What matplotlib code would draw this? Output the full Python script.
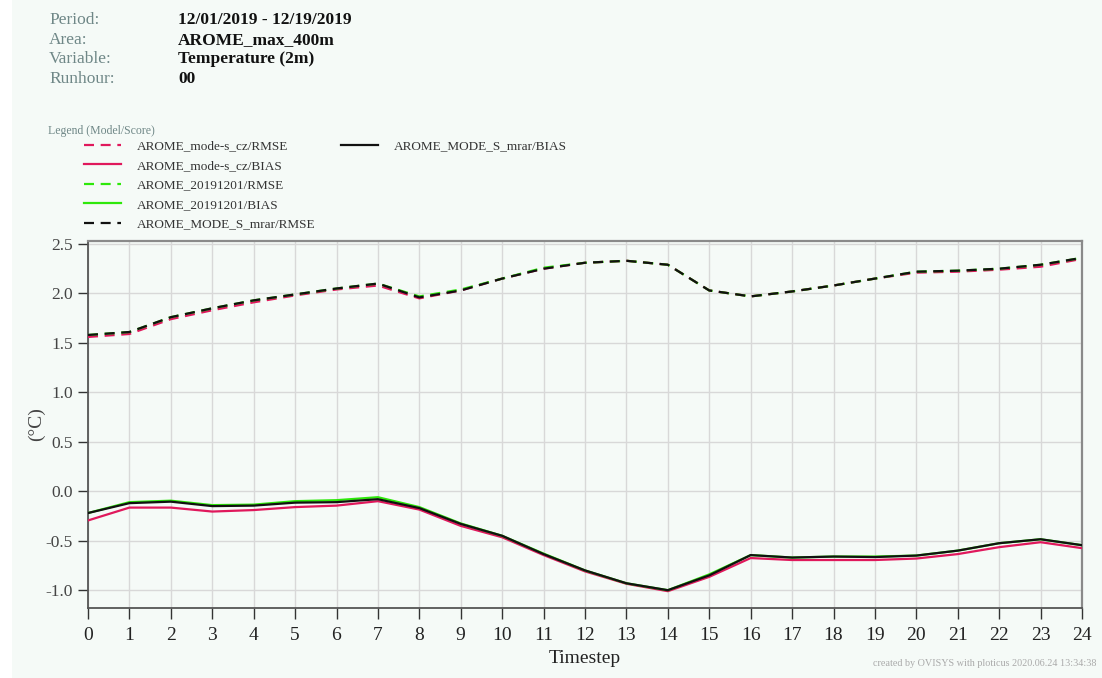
#!/usr/bin/env python3
"""
Verification scores plot: Temperature (2m), RMSE and BIAS by timestep
"""
import matplotlib
matplotlib.use("Agg")
import matplotlib.pyplot as plt
from matplotlib.patches import Rectangle

# header info
header_keys = ["Period:", "Area:", "Variable:", "Runhour:"]
header_vals = ["12/01/2019 - 12/19/2019", "AROME_max_400m", "Temperature (2m)", "00"]

timesteps = list(range(25))
xtick_labels = [str(t) for t in timesteps]
yticks = [-1.0, -0.5, 0.0, 0.5, 1.0, 1.5, 2.0, 2.5]

# RMSE series
modes_cz_rmse = [1.56, 1.59, 1.74, 1.83, 1.91, 1.98, 2.04, 2.08, 1.95, 2.03, 2.15, 2.25, 2.31,
                 2.33, 2.29, 2.03, 1.97, 2.02, 2.08, 2.15, 2.21, 2.22, 2.24, 2.27, 2.35]
arome_1201_rmse = [1.58, 1.61, 1.76, 1.85, 1.93, 1.99, 2.05, 2.10, 1.97, 2.04, 2.15, 2.26, 2.31,
                   2.33, 2.29, 2.03, 1.97, 2.02, 2.08, 2.15, 2.22, 2.23, 2.25, 2.29, 2.36]
mrar_rmse = [1.58, 1.61, 1.76, 1.85, 1.93, 1.99, 2.05, 2.10, 1.96, 2.03, 2.15, 2.25, 2.31,
             2.33, 2.29, 2.03, 1.97, 2.02, 2.08, 2.15, 2.22, 2.23, 2.25, 2.29, 2.36]

# BIAS series
modes_cz_bias = [-0.295, -0.165, -0.165, -0.205, -0.19, -0.16, -0.145, -0.10, -0.185, -0.35,
                 -0.465, -0.645, -0.81, -0.935, -1.01, -0.865, -0.675, -0.695, -0.695, -0.695,
                 -0.68, -0.635, -0.565, -0.515, -0.575]
arome_1201_bias = [-0.22, -0.11, -0.095, -0.14, -0.135, -0.10, -0.09, -0.06, -0.16, -0.325,
                   -0.45, -0.63, -0.80, -0.93, -1.00, -0.84, -0.645, -0.67, -0.66, -0.66,
                   -0.65, -0.60, -0.525, -0.485, -0.545]
mrar_bias = [-0.22, -0.12, -0.105, -0.15, -0.145, -0.115, -0.11, -0.08, -0.17, -0.33,
             -0.45, -0.635, -0.80, -0.93, -1.00, -0.85, -0.645, -0.67, -0.66, -0.665,
             -0.65, -0.60, -0.525, -0.485, -0.545]

RED = "#e0185c"
GREEN = "#2ee80a"
BLACK = "#111111"
BG = "#f5faf7"

plt.rcParams['font.family'] = ['Liberation Serif', 'DejaVu Serif']

fig = plt.figure(figsize=(11.02, 6.78), dpi=100, facecolor=BG)
# white strip at left edge
fig.patches.append(Rectangle((0, 0), 12 / 1102, 1, transform=fig.transFigure,
                             facecolor="white", edgecolor="none", zorder=0))

ax = fig.add_axes([88 / 1102, 70 / 678, 994 / 1102, 367 / 678])
ax.set_facecolor(BG)

series = [
    (modes_cz_rmse, RED, "--", "AROME_mode-s_cz/RMSE"),
    (modes_cz_bias, RED, "-", "AROME_mode-s_cz/BIAS"),
    (arome_1201_rmse, GREEN, "--", "AROME_20191201/RMSE"),
    (arome_1201_bias, GREEN, "-", "AROME_20191201/BIAS"),
    (mrar_rmse, BLACK, "--", "AROME_MODE_S_mrar/RMSE"),
    (mrar_bias, BLACK, "-", "AROME_MODE_S_mrar/BIAS"),
]
handles = []
for vals, col, ls, lab in series:
    ln, = ax.plot(timesteps, vals, color=col, linestyle=ls, linewidth=1.6,
                  dashes=(4.5, 3) if ls == "--" else (None, None), label=lab, zorder=3)
    handles.append(ln)

ax.set_xlim(0, 24)
ax.set_ylim(-1.18, 2.53)
ax.set_xticks(timesteps)
ax.set_xticklabels(xtick_labels)
ax.set_yticks(yticks)
ax.set_yticklabels([f"{v:.1f}" for v in yticks])
ax.grid(True, color="#d8d8d8", linewidth=1.0, zorder=0)
ax.set_axisbelow(True)

for side in ["left", "bottom"]:
    ax.spines[side].set_color("#555555")
    ax.spines[side].set_linewidth(1.3)
for side in ["top", "right"]:
    ax.spines[side].set_color("#8a8a8a")
    ax.spines[side].set_linewidth(1.6)

ax.tick_params(axis="x", length=8, width=1, color="#333333", labelsize=14,
               labelcolor="#222222", pad=6)
ax.tick_params(axis="y", length=7, width=1, color="#333333", labelsize=12.5,
               labelcolor="#444444", pad=4)

ax.set_xlabel("Timestep", fontsize=14, color="#222222", labelpad=4)
ax.set_ylabel("(°C)", fontsize=14, color="#444444", labelpad=0)

# header block
for i, (k, v) in enumerate(zip(header_keys, header_vals)):
    y = 1 - (20 + i * 19.7) / 678
    fig.text(49 / 1102, y, k, fontsize=12.5, color="#6f8787", va="center", ha="left")
    fig.text(178 / 1102, y, v, fontsize=12.5, color="#111111", va="center", ha="left",
             fontweight="bold")

fig.text(48 / 1102, 1 - 131 / 678, "Legend (Model/Score)", fontsize=8.5,
         color="#6f8787", va="center", ha="left")

leg_kw = dict(frameon=False, fontsize=9.5, handlelength=2.8, handletextpad=1.2,
              labelspacing=0.55, borderpad=0, borderaxespad=0, loc="upper left",
              bbox_transform=fig.transFigure, labelcolor="#333333")
leg1 = fig.legend(handles[:5], [h.get_label() for h in handles[:5]],
                  bbox_to_anchor=(84 / 1102, 1 - 140 / 678), **leg_kw)
leg2 = fig.legend(handles[5:], [h.get_label() for h in handles[5:]],
                  bbox_to_anchor=(341 / 1102, 1 - 140 / 678), **leg_kw)

fig.text(873 / 1102, 1 - 664 / 678,
         "created by OVISYS with ploticus 2020.06.24 13:34:38",
         fontsize=7.3, color="#aaaaaa", va="center", ha="left")

plt.savefig("out.png", dpi=100, facecolor=BG)
